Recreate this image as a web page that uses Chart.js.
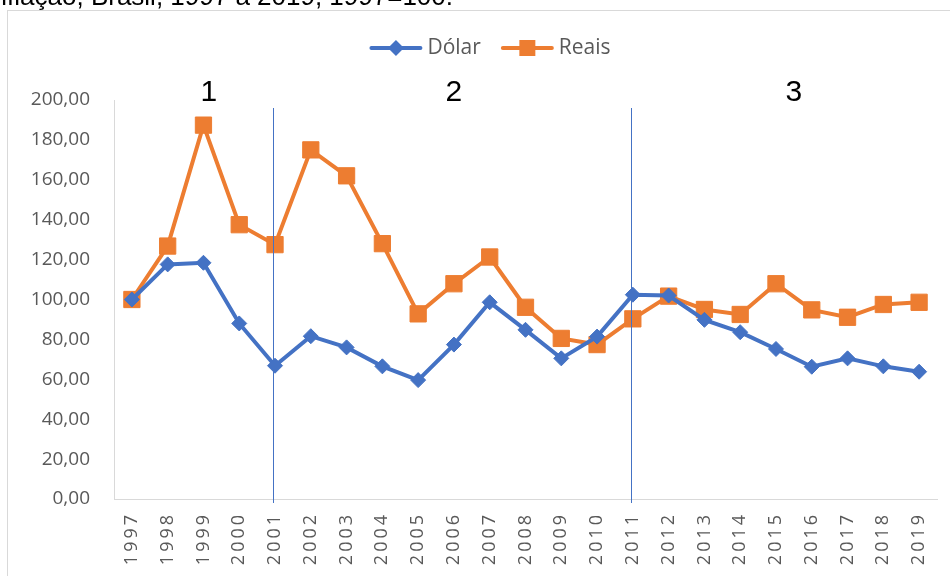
<!DOCTYPE html>
<html>
<head>
<meta charset="utf-8">
<script src="https://cdn.jsdelivr.net/npm/chart.js@4.4.1/dist/chart.umd.min.js"></script>
<style>
  html, body { margin: 0; padding: 0; background: #fff; }
  #wrap { width: 950px; height: 576px; }
</style>
</head>
<body>
<div id="wrap"><canvas id="indexChart" width="950" height="576"></canvas></div>
<script>
// Índice do câmbio, 1997=100
const years = ['1997', '1998', '1999', '2000', '2001', '2002', '2003', '2004', '2005', '2006', '2007', '2008',
  '2009', '2010', '2011', '2012', '2013', '2014', '2015', '2016', '2017', '2018', '2019'];
const dolar = [100, 117.6, 118.4, 88, 66.8, 81.6, 76, 66.5, 59.6, 77.4, 98.6, 84.8,
  70.5, 81.4, 102.4, 102, 89.8, 83.6, 75.2, 66.3, 70.5, 66.5, 63.8];
const reais = [100, 126.8, 187.4, 137.5, 127.5, 175, 162, 128, 92.8, 107.9, 121.3, 96.1,
  80.5, 77.4, 90.3, 101.7, 95, 92.5, 107.9, 94.8, 91.1, 97.5, 98.6];
const seriesNames = ['Dólar', 'Reais'];

// períodos marcados no gráfico
const periodLabels = ['1', '2', '3'];
const periodCenters = [2.15, 9, 18.5];
const periodBreaks = ['2001', '2011'];

const captionText = 'nflação, Brasil, 1997 a 2019, 1997=100.';

const BLUE = '#4472C4';
const ORANGE = '#ED7D31';
const GREY = '#595959';

const framePlugin = {
  id: 'frame',
  beforeDraw(chart) {
    const ctx = chart.ctx;
    ctx.save();
    ctx.fillStyle = '#fff';
    ctx.fillRect(0, 0, chart.width, chart.height);
    ctx.strokeStyle = '#d9d9d9';
    ctx.lineWidth = 1;
    ctx.strokeRect(7.5, 10.5, 980, 620);
    ctx.fillStyle = '#000';
    ctx.font = '26px "Liberation Sans", Arial, sans-serif';
    ctx.textAlign = 'right';
    ctx.textBaseline = 'alphabetic';
    ctx.fillText(captionText, 453, 5);
    ctx.restore();
  }
};

// legenda no estilo do Excel: linha com marcador, centrada sobre o gráfico
const lineLegendPlugin = {
  id: 'lineLegend',
  afterDraw(chart) {
    const ctx = chart.ctx;
    const sets = chart.data.datasets;
    const iconW = 53, gap = 5, spacing = 20;
    ctx.save();
    ctx.font = '21px "Open Sans", sans-serif';
    ctx.textBaseline = 'middle';
    ctx.textAlign = 'left';
    const widths = sets.map(ds => iconW + gap + ctx.measureText(ds.label).width);
    const total = widths.reduce((a, b) => a + b, 0) + spacing * (sets.length - 1);
    let x = 490 - total / 2;
    const y = 48;
    sets.forEach(function (ds, i) {
      const color = ds.borderColor;
      ctx.strokeStyle = color;
      ctx.fillStyle = color;
      ctx.lineWidth = 4;
      ctx.lineCap = 'round';
      ctx.beginPath();
      ctx.moveTo(x + 2, y);
      ctx.lineTo(x + iconW - 2, y);
      ctx.stroke();
      const mx = x + iconW / 2;
      if (ds.pointStyle === 'rectRot') {
        ctx.beginPath();
        ctx.moveTo(mx, y - 8);
        ctx.lineTo(mx + 8, y);
        ctx.lineTo(mx, y + 8);
        ctx.lineTo(mx - 8, y);
        ctx.closePath();
        ctx.fill();
      } else {
        ctx.fillRect(mx - 8, y - 8, 16, 16);
      }
      ctx.fillStyle = GREY;
      ctx.fillText(ds.label, x + iconW + gap, y);
      x += widths[i] + spacing;
    });
    ctx.restore();
  }
};

const periodPlugin = {
  id: 'periods',
  afterDatasetsDraw(chart) {
    const ctx = chart.ctx;
    const x = chart.scales.x;
    const area = chart.chartArea;
    ctx.save();
    ctx.strokeStyle = BLUE;
    ctx.lineWidth = 1;
    periodBreaks.forEach(function (yr) {
      const px = Math.round(x.getPixelForValue(years.indexOf(yr))) - 1.5;
      ctx.beginPath();
      ctx.moveTo(px, area.top + 8);
      ctx.lineTo(px, area.bottom + 4);
      ctx.stroke();
    });
    ctx.fillStyle = '#000';
    ctx.font = '30px "Liberation Sans", Arial, sans-serif';
    ctx.textAlign = 'center';
    ctx.textBaseline = 'alphabetic';
    periodLabels.forEach(function (lbl, i) {
      ctx.fillText(lbl, x.getPixelForValue(periodCenters[i]), area.top + 1);
    });
    ctx.restore();
  }
};

const ctxIndex = document.getElementById('indexChart').getContext('2d');
new Chart(ctxIndex, {
  type: 'line',
  data: {
    labels: years,
    datasets: [{
      label: seriesNames[0],
      data: dolar,
      borderColor: BLUE,
      backgroundColor: BLUE,
      borderWidth: 4,
      pointStyle: 'rectRot',
      pointRadius: 7.5,
      pointBorderWidth: 1,
      tension: 0
    }, {
      label: seriesNames[1],
      data: reais,
      borderColor: ORANGE,
      backgroundColor: ORANGE,
      borderWidth: 4,
      pointStyle: 'rect',
      pointRadius: 11.5,
      pointBorderWidth: 1,
      tension: 0
    }]
  },
  options: {
    responsive: false,
    animation: false,
    layout: { padding: { top: 100, right: 13, left: 7, bottom: 0 } },
    plugins: {
      tooltip: { enabled: false },
      legend: { display: false }
    },
    scales: {
      x: {
        offset: true,
        grid: { display: false, drawTicks: false },
        border: { display: true, color: '#d9d9d9', width: 1 },
        ticks: {
          color: GREY,
          font: { family: '"Open Sans", sans-serif', size: 18 },
          minRotation: 90,
          maxRotation: 90,
          padding: 16,
          autoSkip: false,
          callback: function (value) {
            return this.getLabelForValue(value).split('').join('\u2009');
          }
        },
        afterFit: function (scale) {
          scale.height = 77;
          scale.paddingLeft = 0;
          scale.paddingRight = 0;
        }
      },
      y: {
        min: 0,
        max: 200,
        grid: { display: false, drawTicks: false },
        border: { display: true, color: '#d9d9d9', width: 1 },
        ticks: {
          stepSize: 20,
          color: GREY,
          padding: 24,
          font: { family: '"Open Sans", sans-serif', size: 19 },
          callback: function (value) {
            return value.toFixed(2).replace('.', ',');
          }
        },
        afterFit: function (scale) { scale.width = 107; }
      }
    }
  },
  plugins: [framePlugin, periodPlugin, lineLegendPlugin]
});
</script>
</body>
</html>
